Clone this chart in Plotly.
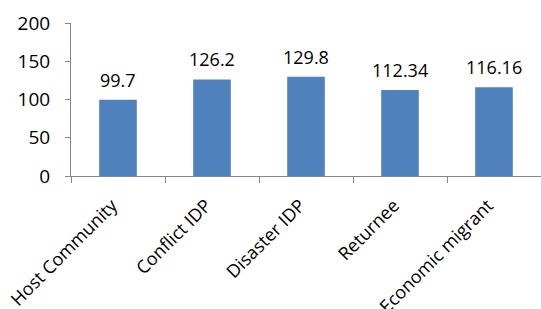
import plotly.graph_objects as go

categories = ["Host Community", "Conflict IDP", "Disaster IDP", "Returnee", "Economic migrant"]
values = [99.7, 126.2, 129.8, 112.34, 116.16]
y_ticks = [0, 50, 100, 150, 200]

FONT = "Open Sans"
AXIS = "#868686"

fig = go.Figure(go.Bar(
    x=categories, y=values, marker=dict(color="#4F81BD", line=dict(width=0)),
    width=0.4, hoverinfo="skip",
))

for c, v in zip(categories, values):
    fig.add_annotation(x=c, y=v, text=str(v), showarrow=False, yshift=20,
                       yanchor="middle", font=dict(family=FONT, size=18, color="#000000"))

fig.update_layout(
    width=541, height=309,
    margin=dict(l=71, r=0, t=23, b=133, autoexpand=False),
    paper_bgcolor="white", plot_bgcolor="white",
    showlegend=False,
    font=dict(family=FONT, size=18, color="#000000"),
)
fig.update_xaxes(
    showline=True, linecolor=AXIS, linewidth=1,
    ticks="outside", ticklen=6, tickcolor=AXIS, tickson="boundaries",
    tickangle=-45, showgrid=False, zeroline=False, automargin=False,
    tickfont=dict(family=FONT, size=18, color="#000000"),
    ticklabelstandoff=11, ticklabelshift=-6,
)
fig.update_yaxes(
    range=[0, 200], tickvals=y_ticks, showline=True, linecolor=AXIS, linewidth=1,
    ticks="outside", ticklen=5, tickcolor=AXIS, showgrid=False, zeroline=False,
    automargin=False,
    tickfont=dict(family=FONT, size=19, color="#000000"), ticklabelstandoff=11,
)
fig.write_html("out.html", config={"displayModeBar": False},
               post_script="document.body.style.margin='0';document.body.style.padding='0';")
